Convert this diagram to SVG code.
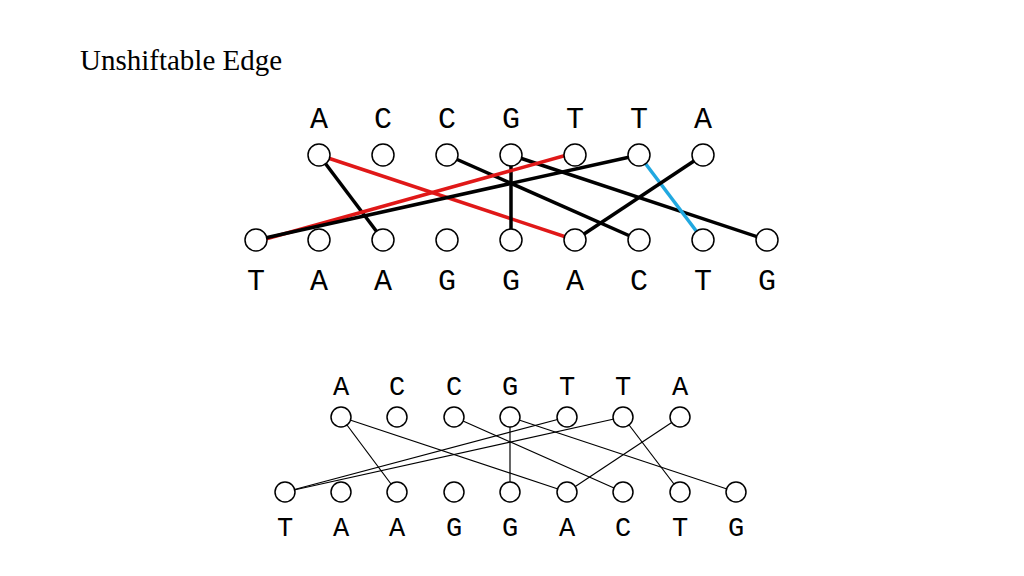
<svg xmlns="http://www.w3.org/2000/svg" width="1024" height="576" viewBox="0 0 1024 576">
<style>
.t{font-family:"Liberation Serif",serif;font-size:29px}
.l1{font-family:"Liberation Mono",monospace;font-size:30px;text-anchor:middle}
.l2{font-family:"Liberation Mono",monospace;font-size:27px;text-anchor:middle}
.n{fill:#fff;stroke:#000;stroke-width:1.5}
.e1{stroke:#000;stroke-width:3.5}
.r{stroke:#e01818;stroke-width:3.5}
.b{stroke:#20a8e0;stroke-width:3.5}
.e2{stroke:#000;stroke-width:1.2}
</style>
<rect width="1024" height="576" fill="#fff"/>
<text class="t" x="80" y="70">Unshiftable Edge</text>
<g id="connectors">
<line class="e1" x1="319" y1="155" x2="383" y2="240"/>
<line class="r" x1="319" y1="155" x2="575" y2="240"/>
<line class="e1" x1="447" y1="155" x2="639" y2="240"/>
<line class="e1" x1="511" y1="155" x2="511" y2="240"/>
<line class="e1" x1="511" y1="155" x2="767" y2="240"/>
<line class="r" x1="567" y1="155" x2="262" y2="240"/>
<line class="e1" x1="639" y1="155" x2="256" y2="240"/>
<line class="b" x1="639" y1="155" x2="703" y2="240"/>
<line class="e1" x1="703" y1="155" x2="575" y2="240"/>
<line class="e2" x1="341" y1="417" x2="397" y2="492"/>
<line class="e2" x1="341" y1="417" x2="567" y2="492"/>
<line class="e2" x1="454" y1="417" x2="623" y2="492"/>
<line class="e2" x1="510" y1="417" x2="510" y2="492"/>
<line class="e2" x1="510" y1="417" x2="736" y2="492"/>
<line class="e2" x1="567" y1="417" x2="285" y2="492"/>
<line class="e2" x1="623" y1="417" x2="285" y2="492"/>
<line class="e2" x1="623" y1="417" x2="680" y2="492"/>
<line class="e2" x1="680" y1="417" x2="567" y2="492"/>
</g>
<g id="top1">
<g class="l1"><text x="319" y="128">A</text><text x="383" y="128">C</text><text x="447" y="128">C</text><text x="511" y="128">G</text><text x="575" y="128">T</text><text x="639" y="128">T</text><text x="703" y="128">A</text></g>
<circle class="n" cx="319" cy="155" r="11"/><circle class="n" cx="383" cy="155" r="11"/><circle class="n" cx="447" cy="155" r="11"/><circle class="n" cx="511" cy="155" r="11"/><circle class="n" cx="575" cy="155" r="11"/><circle class="n" cx="639" cy="155" r="11"/><circle class="n" cx="703" cy="155" r="11"/>
</g>
<g id="bottom1">
<circle class="n" cx="256" cy="240" r="11"/><circle class="n" cx="319" cy="240" r="11"/><circle class="n" cx="383" cy="240" r="11"/><circle class="n" cx="447" cy="240" r="11"/><circle class="n" cx="511" cy="240" r="11"/><circle class="n" cx="575" cy="240" r="11"/><circle class="n" cx="639" cy="240" r="11"/><circle class="n" cx="703" cy="240" r="11"/><circle class="n" cx="767" cy="240" r="11"/>
<g class="l1"><text x="256" y="290">T</text><text x="319" y="290">A</text><text x="383" y="290">A</text><text x="447" y="290">G</text><text x="511" y="290">G</text><text x="575" y="290">A</text><text x="639" y="290">C</text><text x="703" y="290">T</text><text x="767" y="290">G</text></g>
</g>
<g id="top2">
<g class="l2"><text x="341" y="395">A</text><text x="397" y="395">C</text><text x="454" y="395">C</text><text x="510" y="395">G</text><text x="567" y="395">T</text><text x="623" y="395">T</text><text x="680" y="395">A</text></g>
<circle class="n" cx="341" cy="417" r="10"/><circle class="n" cx="397" cy="417" r="10"/><circle class="n" cx="454" cy="417" r="10"/><circle class="n" cx="510" cy="417" r="10"/><circle class="n" cx="567" cy="417" r="10"/><circle class="n" cx="623" cy="417" r="10"/><circle class="n" cx="680" cy="417" r="10"/>
</g>
<g id="bottom2">
<circle class="n" cx="285" cy="492" r="10"/><circle class="n" cx="341" cy="492" r="10"/><circle class="n" cx="397" cy="492" r="10"/><circle class="n" cx="454" cy="492" r="10"/><circle class="n" cx="510" cy="492" r="10"/><circle class="n" cx="567" cy="492" r="10"/><circle class="n" cx="623" cy="492" r="10"/><circle class="n" cx="680" cy="492" r="10"/><circle class="n" cx="736" cy="492" r="10"/>
<g class="l2"><text x="285" y="536">T</text><text x="341" y="536">A</text><text x="397" y="536">A</text><text x="454" y="536">G</text><text x="510" y="536">G</text><text x="567" y="536">A</text><text x="623" y="536">C</text><text x="680" y="536">T</text><text x="736" y="536">G</text></g>
</g>
</svg>
